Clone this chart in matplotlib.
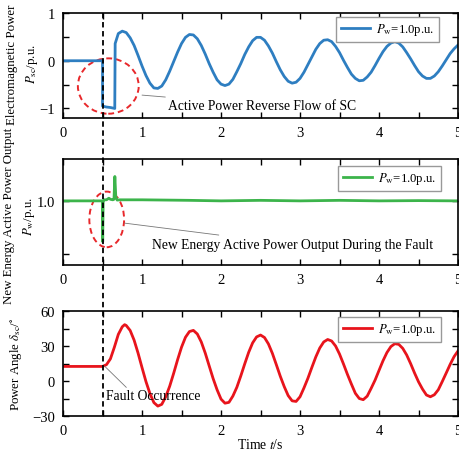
"""Fault response of the SC: electromagnetic power, new energy output and power angle."""

import matplotlib

matplotlib.use("Agg")
import matplotlib.pyplot as plt
import numpy as np
from matplotlib.lines import Line2D
from matplotlib.patches import Ellipse
from matplotlib.ticker import MultipleLocator
from matplotlib.transforms import blended_transform_factory

plt.rcParams["font.family"] = ["Liberation Serif", "DejaVu Serif"]
plt.rcParams["mathtext.fontset"] = "stix"
plt.rcParams["font.size"] = 10

FAULT_TIME = 0.5
LEGEND_LABEL = r"$P_{\mathrm{w}}$=1.0p.u."

# sampled part of the oscillations (0.05 s steps)
osc_time_p = np.linspace(0.70, 5.00, 87)
osc_time_d = np.linspace(0.80, 5.00, 85)

# electromagnetic power of the SC (p.u.)
p_sc_time_start = [0.0, 0.5, 0.5, 0.55, 0.60, 0.655, 0.66]
p_sc_start = [0.0, 0.0, -0.95, -0.97, -0.98, -1.0, 0.36]
p_sc_osc = [
    0.57, 0.62, 0.59, 0.48, 0.32, 0.11, -0.11, -0.31, -0.47, -0.57,
    -0.58, -0.53, -0.40, -0.22, -0.02, 0.18, 0.36, 0.49, 0.55, 0.54,
    0.46, 0.32, 0.14, -0.06, -0.24, -0.40, -0.49, -0.52, -0.49, -0.39,
    -0.23, -0.06, 0.13, 0.29, 0.42, 0.49, 0.49, 0.43, 0.31, 0.16,
    -0.02, -0.19, -0.33, -0.43, -0.47, -0.45, -0.37, -0.24, -0.08, 0.08,
    0.24, 0.36, 0.43, 0.44, 0.40, 0.30, 0.17, 0.01, -0.14, -0.28,
    -0.37, -0.42, -0.41, -0.34, -0.24, -0.10, 0.05, 0.19, 0.30, 0.37,
    0.40, 0.37, 0.29, 0.17, 0.04, -0.10, -0.23, -0.32, -0.37, -0.37,
    -0.32, -0.23, -0.11, 0.02, 0.15, 0.25, 0.33,
]

# new energy active power output (p.u.)
p_w_time = [0.0, 0.498, 0.502, 0.508, 0.52, 0.55, 0.58, 0.60, 0.63, 0.645,
            0.656, 0.668, 0.685, 0.72, 0.80, 1.0, 1.3, 1.6, 2.0, 2.5,
            3.0, 3.5, 4.0, 4.5, 5.0]
p_w = [1.0, 1.0, 0.923, 0.998, 1.002, 1.002, 1.005, 1.003, 1.002, 1.003,
       1.046, 1.008, 1.0015, 1.002, 1.002, 1.002, 1.0015, 1.001, 1.0, 1.001,
       1.0, 1.001, 1.0, 1.0005, 1.0]

# power angle of the SC (degrees)
delta_time_start = [0.0, 0.5, 0.55, 0.60, 0.65, 0.70, 0.75, 0.78]
delta_start = [12.5, 12.5, 14.0, 19.0, 29.0, 40.0, 46.5, 48.3]
delta_osc = [
    47.6, 43.3, 35.0, 23.9, 11.5, -0.5, -10.7, -18.5, -21.5, -20.0,
    -13.5, -4.5, 6.5, 18.2, 29.0, 37.5, 42.4, 43.4, 40.3, 33.5,
    24.0, 13.0, 2.1, -7.5, -15.5, -19.0, -18.3, -12.9, -5.4, 4.3,
    14.7, 24.6, 32.7, 37.8, 39.4, 37.3, 31.8, 23.7, 14.0, 4.1,
    -4.8, -12.5, -17.0, -17.5, -13.5, -5.9, 2.4, 11.7, 20.7, 28.3,
    33.5, 35.6, 34.3, 30.0, 23.1, 14.6, 5.7, -2.6, -10.5, -15.0,
    -16.0, -13.0, -6.3, 0.8, 9.1, 17.3, 24.4, 29.5, 32.0, 31.4,
    28.0, 22.3, 14.9, 6.8, -0.7, -6.9, -12.0, -13.5, -11.8, -7.5,
    -0.5, 6.8, 14.2, 20.9, 25.8,
]


def style_axis(axis, legend_anchor):
    axis.set_xlim(0, 5)
    axis.xaxis.set_major_locator(MultipleLocator(1))
    axis.xaxis.set_minor_locator(MultipleLocator(0.5))
    axis.tick_params(which="both", direction="in", top=True, right=True,
                     length=4, width=1.0, labelsize=10.5, pad=6)
    for spine in axis.spines.values():
        spine.set_linewidth(1.2)
    axis.legend(loc="upper right", bbox_to_anchor=legend_anchor,
                fancybox=False, edgecolor="#999999", framealpha=1,
                handlelength=2.3, handletextpad=0.5, fontsize=9.2,
                borderaxespad=0, borderpad=0.35)


def add_note(axis, ellipse, start, text_pos, text):
    axis.add_patch(Ellipse(ellipse[0], ellipse[1], ellipse[2], fill=False,
                           edgecolor="#e8282b", linestyle=(0, (3, 2)), lw=1.4))
    axis.annotate(text, xy=start, xytext=text_pos, fontsize=9.8,
                  va="center", ha="left",
                  arrowprops=dict(arrowstyle="-", color="#777777", lw=0.6,
                                  shrinkA=0, shrinkB=0))


figure = plt.figure(figsize=(4.59, 4.52), dpi=100)
ax1 = figure.add_axes([0.1373, 0.7367, 0.8606, 0.2323])
ax2 = figure.add_axes([0.1373, 0.4115, 0.8606, 0.2345])
ax3 = figure.add_axes([0.1373, 0.0774, 0.8606, 0.2323])

ax1.plot(list(p_sc_time_start) + list(osc_time_p), p_sc_start + p_sc_osc,
         color="#2e7ec1", lw=2.0, label=LEGEND_LABEL)
ax1.set_ylim(-1.2, 1.0)
ax1.yaxis.set_major_locator(MultipleLocator(1))
ax1.yaxis.set_minor_locator(MultipleLocator(0.5))
ax1.set_ylabel("Electromagnetic Power\n" + r"$P_{\mathrm{sc}}$/p.u.",
               fontsize=9.3, linespacing=1.55)
style_axis(ax1, (0.952, 0.962))
add_note(ax1, ((0.573, -0.53), 0.77, 1.16), (1.0, -0.72), (1.33, -0.93),
         "Active Power Reverse Flow of SC")

ax2.plot(p_w_time, p_w, color="#3cb44b", lw=2.0, label=LEGEND_LABEL)
ax2.set_ylim(0.879, 1.079)
ax2.set_yticks([0.9, 1.0])
ax2.set_yticklabels(["", "1.0"])
ax2.set_ylabel("New Energy Active Power Output\n" + r"$P_{\mathrm{w}}$/p.u.",
               fontsize=9.3, linespacing=1.55)
style_axis(ax2, (0.957, 0.934))
add_note(ax2, ((0.553, 0.965), 0.44, 0.105), (0.78, 0.958), (1.12, 0.918),
         "New Energy Active Power Output During the Fault")

ax3.plot(list(delta_time_start) + list(osc_time_d), delta_start + delta_osc,
         color="#e8141c", lw=2.0, label=LEGEND_LABEL)
ax3.set_ylim(-30, 60)
ax3.set_yticks([-30, 0, 30, 60])
ax3.yaxis.set_minor_locator(MultipleLocator(15))
ax3.set_ylabel(r"Power Angle $\delta_{\mathrm{sc}}$/$^{\circ}$", fontsize=9.3)
ax3.set_xlabel(r"Time $t$/s", fontsize=9.8, labelpad=0)
style_axis(ax3, (0.957, 0.943))
ax3.annotate("Fault Occurrence", xy=(0.53, 12.5), xytext=(0.545, -12.6),
             fontsize=9.8, va="center", ha="left")
ax3.plot([0.53, 0.80], [12.5, -5.4], color="#777777", lw=0.6)

ax1.yaxis.set_label_coords(-0.059, 0.52)
ax2.yaxis.set_label_coords(-0.066, 0.47)
ax3.yaxis.set_label_coords(-0.100, 0.5)

# fault instant crossing all three panels
fault_transform = blended_transform_factory(ax1.transData, figure.transFigure)
figure.add_artist(Line2D([FAULT_TIME, FAULT_TIME], [0.969, 0.0774],
                         transform=fault_transform, color="black", lw=1.3,
                         linestyle=(0, (3, 2))))

figure.savefig("out.png", dpi=100)
